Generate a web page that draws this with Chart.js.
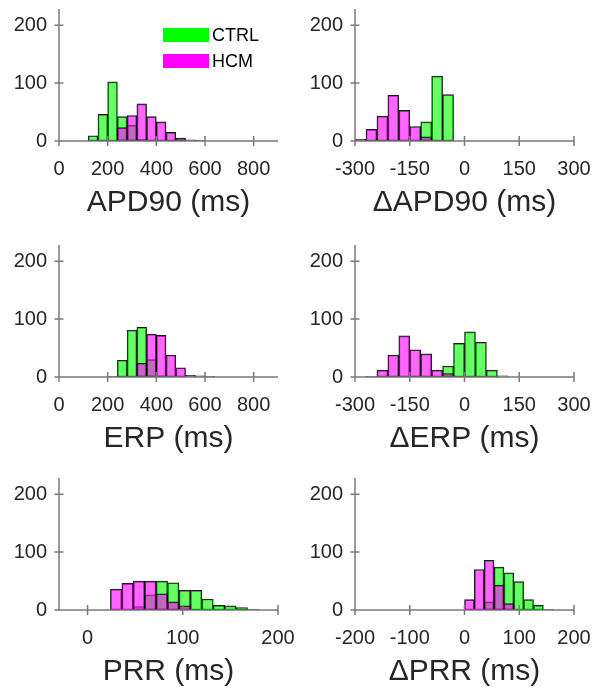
<!DOCTYPE html>
<html lang="pt-BR">
<head>
<meta charset="UTF-8">
<title>Histogramas CTRL x HCM</title>
<script src="https://cdn.jsdelivr.net/npm/chart.js@4.4.1/dist/chart.umd.min.js"></script>
<style>
    html, body { margin: 0; padding: 0; background: #fff; overflow: hidden; width: 595px; height: 690px; }
    #palco { position: relative; width: 595px; height: 690px; }
    canvas { position: absolute; }
    .leg-caixa { position: absolute; width: 46px; height: 14px; }
    .leg-texto { position: absolute; height: 20px; line-height: 20px; font-family: "Liberation Sans", Arial, sans-serif; font-size: 18px; color: #000; }
</style>
</head>
<body>
<div id="palco">
    <canvas id="gApd" width="297" height="230" style="left:0px;top:0px"></canvas>
    <canvas id="gDApd" width="299" height="230" style="left:296px;top:0px"></canvas>
    <canvas id="gErp" width="297" height="230" style="left:0px;top:236px"></canvas>
    <canvas id="gDErp" width="299" height="230" style="left:296px;top:236px"></canvas>
    <canvas id="gPrr" width="297" height="230" style="left:0px;top:469px"></canvas>
    <canvas id="gDPrr" width="299" height="230" style="left:296px;top:469px"></canvas>

    <!-- legenda do primeiro painel -->
    <div class="leg-caixa" style="left:163px;top:28px;background:#00ff00"></div>
    <div class="leg-texto" style="left:212px;top:25px">CTRL</div>
    <div class="leg-caixa" style="left:163px;top:54px;background:#ff00ff"></div>
    <div class="leg-texto" style="left:212px;top:51px">HCM</div>
</div>

<script>
// =========================================
// DADOS (contagens lidas de cada bin)
// =========================================

// APD90 (bins de 40 ms)
const apdCentros = [140, 180, 220, 260, 300, 340, 380, 420, 460, 500, 540, 580];
const apdCtrl = [9, 46, 102, 42, 27, 3, 0, 0, 0, 0, 0, 0];
const apdHcm = [0, 0, 0, 23, 44, 64, 42, 33, 15, 5, 2, 1];

// ΔAPD90 (bins de 30 ms)
const dApdCentros = [-285, -255, -225, -195, -165, -135, -105, -75, -45, -15];
const dApdCtrl = [0, 0, 0, 0, 0, 0, 33, 112, 80, 0];
const dApdHcm = [3, 20, 43, 79, 53, 25, 7, 0, 0, 0];

// ERP (bins de 40 ms)
const erpCentros = [220, 260, 300, 340, 380, 420, 460, 500, 540, 580, 620];
const erpCtrl = [1, 29, 81, 86, 30, 2, 0, 0, 0, 0, 0];
const erpHcm = [0, 0, 0, 24, 74, 72, 38, 16, 3, 2, 1];

// ΔERP (bins de 30 ms)
const dErpCentros = [-255, -225, -195, -165, -135, -105, -75, -45, -15, 15, 45, 75, 105];
const dErpCtrl = [0, 0, 0, 0, 0, 0, 0, 19, 58, 78, 60, 12, 2];
const dErpHcm = [1, 12, 38, 71, 47, 40, 12, 6, 1, 0, 0, 0, 0];

// PRR (bins de 12 ms)
const prrCentros = [30, 42, 54, 66, 78, 90, 102, 114, 126, 138, 150, 162, 174];
const prrCtrl = [0, 0, 6, 26, 50, 47, 34, 34, 19, 8, 7, 4, 1];
const prrHcm = [36, 46, 50, 50, 28, 14, 7, 0, 0, 0, 0, 0, 0];

// ΔPRR (bins de 18 ms)
const dPrrCentros = [9, 27, 45, 63, 81, 99, 117, 135, 153];
const dPrrCtrl = [0, 0, 14, 74, 64, 49, 18, 8, 1];
const dPrrHcm = [18, 70, 86, 43, 11, 0, 0, 0, 0];

// Marcas dos eixos
const marcasY = [0, 100, 200];
const marcasApd = [0, 200, 400, 600, 800];
const marcasDelta300 = [-300, -150, 0, 150, 300];
const marcasPrr = [0, 100, 200];
const marcasDelta200 = [-200, -100, 0, 100, 200];

// =========================================
// ESTILO GERAL
// =========================================
const fonte = "'Liberation Sans', Arial, sans-serif";
const corTexto = "#262626";
const corEixo = "#7a7a7a";
const corCtrl = "rgba(0, 255, 0, 0.6)";
const corHcm = "rgba(255, 0, 255, 0.6)";

Chart.defaults.font.family = fonte;

// =========================================
// PLUGIN QUE DESENHA OS EIXOS NO ESTILO MATLAB
// =========================================
const pluginEixos = {
    id: "eixosMatlab",
    afterDatasetsDraw(chart) {
        const { ctx, chartArea, scales } = chart;
        const base = scales.y.getPixelForValue(0);

        ctx.save();
        ctx.strokeStyle = corEixo;
        ctx.lineWidth = 1.5;
        ctx.beginPath();

        // Eixo vertical e eixo horizontal
        ctx.moveTo(chartArea.left, chartArea.top);
        ctx.lineTo(chartArea.left, base);
        ctx.moveTo(chartArea.left, base);
        ctx.lineTo(chartArea.right, base);

        // Marcas cruzando o eixo x
        scales.x.ticks.forEach((t) => {
            const px = scales.x.getPixelForValue(t.value);
            ctx.moveTo(px, base - 5);
            ctx.lineTo(px, base + 5);
        });

        // Marcas cruzando o eixo y
        scales.y.ticks.forEach((t) => {
            const py = scales.y.getPixelForValue(t.value);
            ctx.moveTo(chartArea.left - 4.5, py);
            ctx.lineTo(chartArea.left + 4.5, py);
        });

        ctx.stroke();
        ctx.restore();
    }
};

// Junta centros e contagens em pontos {x, y}
function montarPontos(centros, valores) {
    return centros.map((c, i) => ({ x: c, y: valores[i] }));
}

// =========================================
// FUNÇÃO QUE CRIA UM HISTOGRAMA
// =========================================
function criarHistograma(idCanvas, centros, ctrl, hcm, minX, maxX, marcasX, titulo, margemDireita) {
    const el = document.getElementById(idCanvas);

    if (!el || typeof Chart === "undefined") {
        return;
    }

    new Chart(el, {
        type: "bar",
        data: {
            datasets: [
                {
                    label: "HCM",
                    data: montarPontos(centros, hcm),
                    backgroundColor: corHcm,
                    borderColor: "rgba(0, 0, 0, 0.9)",
                    borderWidth: 1,
                    borderSkipped: false,
                    order: 0
                },
                {
                    label: "CTRL",
                    data: montarPontos(centros, ctrl),
                    backgroundColor: corCtrl,
                    borderColor: "rgba(0, 0, 0, 0.9)",
                    borderWidth: 1,
                    borderSkipped: false,
                    order: 1
                }
            ]
        },
        options: {
            responsive: false,
            animation: false,
            events: [],
            layout: { padding: { top: 9, right: margemDireita, bottom: 0, left: 0 } },
            datasets: {
                bar: { grouped: false, barPercentage: 1, categoryPercentage: 1 }
            },
            plugins: {
                legend: { display: false },
                tooltip: { enabled: false }
            },
            scales: {
                x: {
                    type: "linear",
                    min: minX,
                    max: maxX,
                    offset: false,
                    grid: { display: false, drawTicks: false, tickLength: 0, offset: false },
                    border: { display: false },
                    afterBuildTicks: (s) => { s.ticks = marcasX.map((v) => ({ value: v })); },
                    afterFit: (s) => { s.height = 89; s.paddingLeft = 0; s.paddingRight = 0; },
                    ticks: {
                        color: corTexto,
                        font: { size: 20 },
                        padding: 16,
                        maxRotation: 0,
                        autoSkip: false,
                        callback: (v) => String(v)
                    },
                    title: {
                        display: true,
                        text: titulo,
                        color: corTexto,
                        font: { size: 30 },
                        padding: { top: 0, bottom: 9 }
                    }
                },
                y: {
                    min: 0,
                    max: 228,
                    grid: { display: false, drawTicks: false, tickLength: 0 },
                    border: { display: false },
                    afterBuildTicks: (s) => { s.ticks = marcasY.map((v) => ({ value: v })); },
                    afterFit: (s) => { s.width = 59; s.paddingTop = 0; s.paddingBottom = 0; },
                    ticks: {
                        color: corTexto,
                        font: { size: 20 },
                        padding: 12,
                        callback: (v) => String(v)
                    }
                }
            }
        },
        plugins: [pluginEixos]
    });
}

// =========================================
// EXECUTA TUDO QUANDO O HTML ESTIVER CARREGADO
// =========================================
window.addEventListener("DOMContentLoaded", () => {
    criarHistograma("gApd", apdCentros, apdCtrl, apdHcm, 0, 900, marcasApd, "APD90 (ms)", 19);
    criarHistograma("gDApd", dApdCentros, dApdCtrl, dApdHcm, -300, 300, marcasDelta300, "ΔAPD90 (ms)", 21);
    criarHistograma("gErp", erpCentros, erpCtrl, erpHcm, 0, 900, marcasApd, "ERP (ms)", 19);
    criarHistograma("gDErp", dErpCentros, dErpCtrl, dErpHcm, -300, 300, marcasDelta300, "ΔERP (ms)", 21);
    criarHistograma("gPrr", prrCentros, prrCtrl, prrHcm, -30, 200, marcasPrr, "PRR (ms)", 19);
    criarHistograma("gDPrr", dPrrCentros, dPrrCtrl, dPrrHcm, -200, 200, marcasDelta200, "ΔPRR (ms)", 21);
});
</script>
</body>
</html>
